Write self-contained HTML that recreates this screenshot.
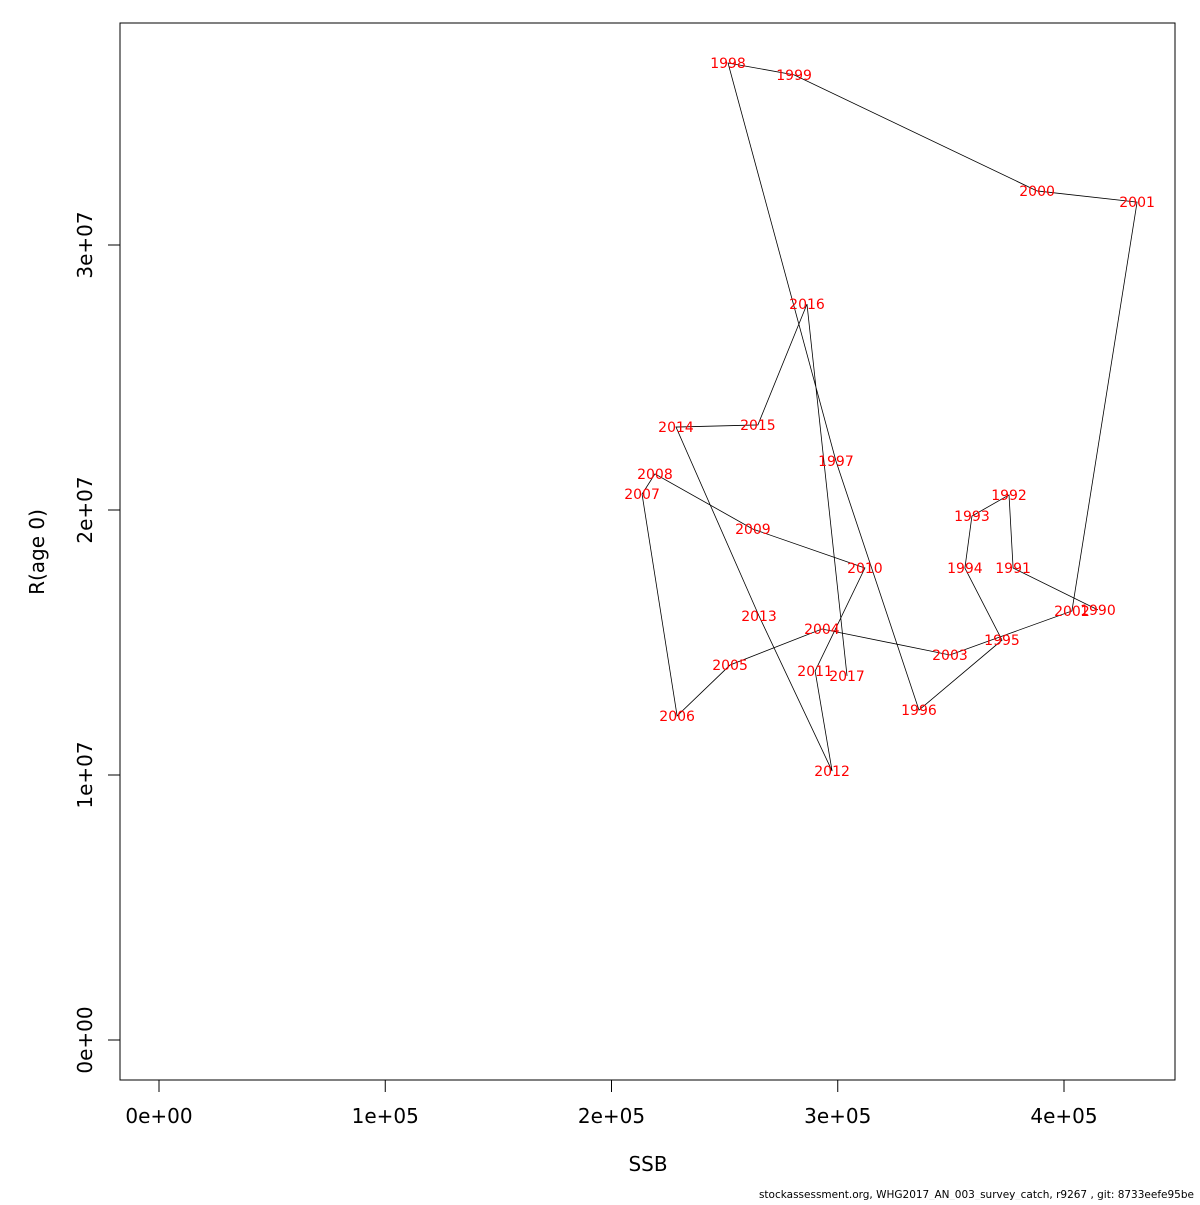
<!DOCTYPE html>
<html><head><meta charset="utf-8"><style>
body{margin:0;background:#fff}
svg{font-family:"DejaVu Sans","Liberation Sans",sans-serif}
</style></head><body>
<svg id="chart" width="1200" height="1200">
<rect x="120" y="23" width="1055" height="1057" fill="none" stroke="#000" stroke-width="1"/>
<g id="xaxis"></g>
<g id="yaxis"></g>
<polyline id="path" fill="none" stroke="#000" stroke-width="0.8"/>
<g id="labels"></g>
<text x="648" y="1171" font-size="20" text-anchor="middle">SSB</text>
<text transform="translate(44,552) rotate(-90)" font-size="20" text-anchor="middle">R(age 0)</text>
<text x="1194" y="1198" font-size="10.5" text-anchor="end">stockassessment.org, WHG2017_AN_003_survey_catch, r9267 , git: 8733eefe95be</text>
</svg>
<script>
const years=[1990,1991,1992,1993,1994,1995,1996,1997,1998,1999,2000,2001,2002,2003,2004,2005,2006,2007,2008,2009,2010,2011,2012,2013,2014,2015,2016,2017];
const ssb=[415000,377500,375700,359300,356200,372600,335900,299200,251500,280700,388100,432300,403500,349600,293000,252400,229000,213500,219200,262500,312000,290000,297500,265200,228500,264700,286400,304100];
const rec=[1.623e7,1.781e7,2.057e7,1.977e7,1.781e7,1.509e7,1.245e7,2.185e7,3.687e7,3.642e7,3.204e7,3.162e7,1.619e7,1.453e7,1.551e7,1.415e7,1.223e7,2.060e7,2.136e7,1.928e7,1.781e7,1.392e7,1.015e7,1.600e7,2.313e7,2.321e7,2.777e7,1.374e7];
const xTicks=[0,1e5,2e5,3e5,4e5];
const xTickLabels=["0e+00","1e+05","2e+05","3e+05","4e+05"];
const yTicks=[0,1e7,2e7,3e7];
const yTickLabels=["0e+00","1e+07","2e+07","3e+07"];
const NS="http://www.w3.org/2000/svg";
const sx=v=>159+v*226.25/1e5;
const sy=v=>1040-v*265/1e7;
function mk(tag,attrs,parent){const e=document.createElementNS(NS,tag);for(const k in attrs)e.setAttribute(k,attrs[k]);parent.appendChild(e);return e;}
const xa=document.getElementById('xaxis'),ya=document.getElementById('yaxis');
mk('line',{x1:sx(xTicks[0]),x2:sx(xTicks[xTicks.length-1]),y1:1080,y2:1080,stroke:'#000'},xa);
xTicks.forEach((t,i)=>{
 const l=mk('line',{x1:sx(t),x2:sx(t),y1:1080,y2:1092,stroke:'#000'},xa);
 
 
 const tx=mk('text',{x:sx(t),y:1123,'font-size':20,'text-anchor':'middle'},xa);
 tx.textContent=xTickLabels[i];
 
 
});
mk('line',{x1:120,x2:120,y1:sy(yTicks[0]),y2:sy(yTicks[yTicks.length-1]),stroke:'#000'},ya);
yTicks.forEach((t,i)=>{
 const l=mk('line',{x1:108,x2:120,y1:sy(t),y2:sy(t),stroke:'#000'},ya);
 
 
 const tx=mk('text',{transform:`translate(92,${sy(t)}) rotate(-90)`,'font-size':20,'text-anchor':'middle'},ya);
 tx.textContent=yTickLabels[i];
 
 
});
document.getElementById('path').setAttribute('points',ssb.map((s,i)=>sx(s)+','+sy(rec[i])).join(' '));
const lg=document.getElementById('labels');
years.forEach((y,i)=>{
 const t=mk('text',{x:sx(ssb[i]),y:sy(rec[i])+5,'font-size':14,fill:'#f00','text-anchor':'middle'},lg);
 t.textContent=y;
 
 
});
</script>
</body></html>
